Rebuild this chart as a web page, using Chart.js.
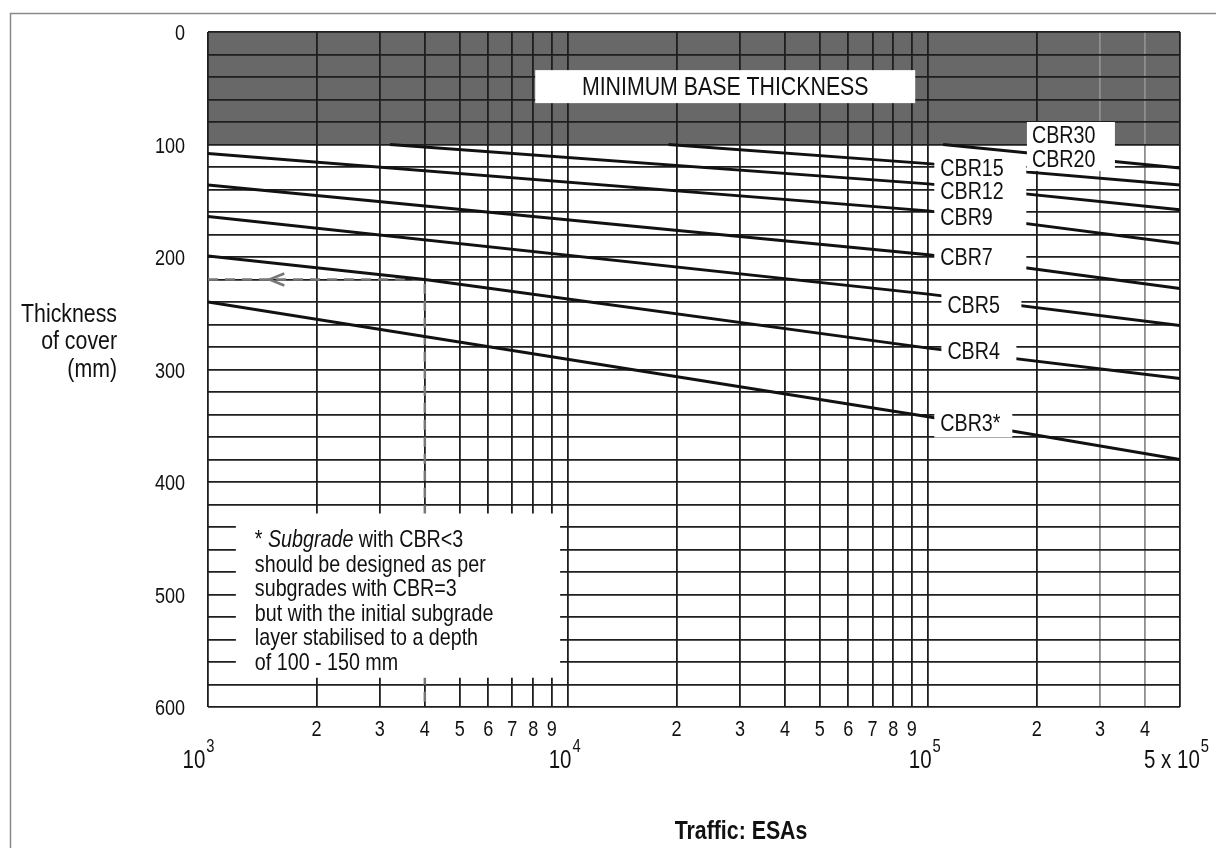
<!DOCTYPE html>
<html>
<head>
<meta charset="utf-8">
<script src="https://cdn.jsdelivr.net/npm/chart.js@4.4.1/dist/chart.umd.min.js"></script>
<style>
html, body { margin: 0; padding: 0; background: #fff; }
#wrap { width: 1216px; height: 848px; position: relative; }
</style>
</head>
<body>
<div id="wrap"><canvas id="coverChart"></canvas></div>
<script>
// thickness of cover (mm) against traffic (ESAs)
const cbr20Esa = [110000, 500000];
const cbr20Mm = [100, 121];
const cbr15Esa = [19000, 100000, 500000];
const cbr15Mm = [100, 117, 136];
const cbr12Esa = [3200, 100000, 500000];
const cbr12Mm = [100, 135, 158];
const cbr9Esa = [1000, 100000, 500000];
const cbr9Mm = [108, 159, 188];
const cbr7Esa = [1000, 100000, 500000];
const cbr7Mm = [136, 198, 228];
const cbr5Esa = [1000, 100000, 500000];
const cbr5Mm = [164, 233, 261];
const cbr4Esa = [1000, 4000, 100000, 500000];
const cbr4Mm = [199, 220, 281, 308];
const cbr3Esa = [1000, 100000, 500000];
const cbr3Mm = [240, 342, 380];

// worked example: 4000 ESAs on CBR4 -> 220 mm
const exampleEsa = [1000, 4000, 4000];
const exampleMm = [220, 220, 600];

const minBase = 100;

const xGridValues = [1000, 2000, 3000, 4000, 5000, 6000, 7000, 8000, 9000,
                     10000, 20000, 30000, 40000, 50000, 60000, 70000, 80000, 90000,
                     100000, 200000, 300000, 400000, 500000];
const xMinorValues = [2000, 3000, 4000, 5000, 6000, 7000, 8000, 9000,
                      20000, 30000, 40000, 50000, 60000, 70000, 80000, 90000,
                      200000, 300000, 400000];
const xMinorLabels = ['2', '3', '4', '5', '6', '7', '8', '9',
                      '2', '3', '4', '5', '6', '7', '8', '9',
                      '2', '3', '4'];
const xDecadeValues = [1000, 10000, 100000, 500000];
const xDecadeBase = ['10', '10', '10', '5 x 10'];
const xDecadePower = ['3', '4', '5', '5'];
const yTickValues = [0, 100, 200, 300, 400, 500, 600];

const noteLines = ['Subgrade with CBR<3', 'should be designed as per', 'subgrades with CBR=3',
                   'but with the initial subgrade', 'layer stabilised to a depth', 'of 100 - 150 mm'];

// the original lettering is a narrow sans, so text is squeezed sideways
const FAMILY = '"Liberation Sans", Arial, sans-serif';
const SQ = 0.82;

function font(size, extra) {
   return (extra ? extra + ' ' : '') + size + 'px ' + FAMILY;
}

function textWidth(ctx, s) {
   return ctx.measureText(s).width * SQ;
}

function say(ctx, s, x, y, align) {
   const w = textWidth(ctx, s);
   const left = align === 'center' ? x - w / 2 : align === 'right' ? x - w : x;
   ctx.save();
   ctx.translate(left, y);
   ctx.scale(SQ, 1);
   ctx.textAlign = 'left';
   ctx.fillText(s, 0, 0);
   ctx.restore();
   return w;
}

function toPoints(esa, mm) {
   return esa.map((v, i) => ({ x: v, y: mm[i] }));
}

function cbrLine(label, esa, mm) {
   return {
      label: label,
      data: toPoints(esa, mm),
      showLine: true,
      borderColor: '#111',
      borderWidth: 3,
      pointRadius: 0,
      fill: false
   };
}

const decor = {
   id: 'decor',

   beforeDraw(chart) {
      const { ctx, chartArea: a, scales: { y } } = chart;
      ctx.save();
      ctx.fillStyle = '#fff';
      ctx.fillRect(0, 0, chart.width, chart.height);

      // picture frame
      ctx.strokeStyle = '#8a8a8a';
      ctx.lineWidth = 1.5;
      ctx.beginPath();
      ctx.moveTo(10.5, chart.height);
      ctx.lineTo(10.5, 13.5);
      ctx.lineTo(chart.width, 13.5);
      ctx.stroke();

      // minimum base band
      ctx.fillStyle = '#686868';
      ctx.fillRect(a.left, a.top, a.right - a.left, y.getPixelForValue(minBase) - a.top);
      ctx.restore();
   },

   afterDatasetsDraw(chart) {
      const { ctx, scales: { x, y } } = chart;
      ctx.save();

      // arrow on the worked example
      const ax = x.getPixelForValue(1480);
      const ay = y.getPixelForValue(exampleMm[0]);
      ctx.strokeStyle = '#777';
      ctx.lineWidth = 2.5;
      ctx.beginPath();
      ctx.moveTo(ax + 15, ay - 6);
      ctx.lineTo(ax, ay);
      ctx.lineTo(ax + 15, ay + 6);
      ctx.stroke();

      // note box
      const nl = x.getPixelForValue(1195), nr = x.getPixelForValue(9500);
      const nt = y.getPixelForValue(428), nb = y.getPixelForValue(574);
      ctx.fillStyle = '#fff';
      ctx.fillRect(nl, nt, nr - nl, nb - nt);

      ctx.fillStyle = '#111';
      ctx.textBaseline = 'middle';
      noteLines.forEach((line, i) => {
         const ty = nt + 27 + i * 24.5;
         ctx.font = font(24);
         if (i === 0) {
            let cx = nl + 19;
            cx += say(ctx, '* ', cx, ty);
            ctx.font = font(24, 'italic');
            cx += say(ctx, 'Subgrade', cx, ty);
            ctx.font = font(24);
            say(ctx, ' with CBR<3', cx, ty);
         } else {
            say(ctx, line, nl + 19, ty);
         }
      });

      // minimum base label
      const mx = x.getPixelForValue(27300), my = y.getPixelForValue(49);
      ctx.fillStyle = '#fff';
      ctx.fillRect(mx - 190, my - 17, 380, 33);
      ctx.fillStyle = '#111';
      ctx.font = font(26);
      say(ctx, 'MINIMUM BASE THICKNESS', mx, my + 1, 'center');

      // CBR30 / CBR20 box
      const bx = x.getPixelForValue(194000);
      ctx.fillStyle = '#fff';
      ctx.fillRect(bx - 5, y.getPixelForValue(80), 88, y.getPixelForValue(123.5) - y.getPixelForValue(80));
      ctx.fillStyle = '#111';
      ctx.font = font(24);
      say(ctx, 'CBR30', bx, y.getPixelForValue(93));
      say(ctx, 'CBR20', bx, y.getPixelForValue(114));

      // labels where the lines break
      const spots = [
         { text: 'CBR15', esa: 108000, mm: 121, w: 92 },
         { text: 'CBR12', esa: 108000, mm: 142, w: 92 },
         { text: 'CBR9', esa: 108000, mm: 164.5, w: 92 },
         { text: 'CBR7', esa: 108000, mm: 200, w: 92 },
         { text: 'CBR5', esa: 113000, mm: 243, w: 80 },
         { text: 'CBR4', esa: 113000, mm: 284, w: 75 },
         { text: 'CBR3*', esa: 108000, mm: 348, w: 78 }
      ];
      spots.forEach(s => {
         const px = x.getPixelForValue(s.esa), py = y.getPixelForValue(s.mm);
         ctx.fillStyle = '#fff';
         ctx.fillRect(px - 6, py - 13, s.w, 27);
      });
      ctx.fillStyle = '#111';
      spots.forEach(s => {
         say(ctx, s.text, x.getPixelForValue(s.esa), y.getPixelForValue(s.mm) + 1);
      });
      ctx.restore();
   },

   afterDraw(chart) {
      const { ctx, chartArea: a, scales: { x, y } } = chart;
      ctx.save();
      ctx.fillStyle = '#111';
      ctx.textBaseline = 'middle';

      // y tick labels
      ctx.font = font(22);
      yTickValues.forEach(v => {
         say(ctx, String(v), a.left - 23, y.getPixelForValue(v) + 2, 'right');
      });

      // y title
      ctx.font = font(26);
      say(ctx, 'Thickness', 117, 315, 'right');
      say(ctx, 'of cover', 117, 342, 'right');
      say(ctx, '(mm)', 117, 370, 'right');

      // x minor labels
      ctx.font = font(22);
      xMinorValues.forEach((v, i) => {
         say(ctx, xMinorLabels[i], x.getPixelForValue(v), a.bottom + 23, 'center');
      });

      // x decade labels with powers
      xDecadeValues.forEach((v, i) => {
         ctx.font = font(25);
         const wb = textWidth(ctx, xDecadeBase[i]);
         ctx.font = font(18);
         const wp = textWidth(ctx, xDecadePower[i]);
         const shift = i === 0 ? -10 : -4;
         const left = x.getPixelForValue(v) + shift - (wb + wp) / 2;
         ctx.font = font(25);
         say(ctx, xDecadeBase[i], left, a.bottom + 54);
         ctx.font = font(18);
         say(ctx, xDecadePower[i], left + wb + 1, a.bottom + 40);
      });

      // x title
      ctx.font = font(26, 'bold');
      say(ctx, 'Traffic: ESAs', 741, 832, 'center');
      ctx.restore();
   }
};

new Chart(document.getElementById('coverChart'), {
   type: 'scatter',

   data: {
      datasets: [
         cbrLine('CBR20', cbr20Esa, cbr20Mm),
         cbrLine('CBR15', cbr15Esa, cbr15Mm),
         cbrLine('CBR12', cbr12Esa, cbr12Mm),
         cbrLine('CBR9', cbr9Esa, cbr9Mm),
         cbrLine('CBR7', cbr7Esa, cbr7Mm),
         cbrLine('CBR5', cbr5Esa, cbr5Mm),
         cbrLine('CBR4', cbr4Esa, cbr4Mm),
         cbrLine('CBR3*', cbr3Esa, cbr3Mm),
         {
            label: 'Example',
            data: toPoints(exampleEsa, exampleMm),
            showLine: true,
            borderColor: '#777',
            borderWidth: 2.5,
            borderDash: [10, 7],
            pointRadius: 0,
            fill: false
         }
      ]
   },

   options: {
      responsive: true,
      maintainAspectRatio: false,
      animation: false,
      events: [],

      layout: {
         padding: { left: 0, right: 36, top: 32, bottom: 0 }
      },

      plugins: {
         legend: { display: false },
         tooltip: { enabled: false }
      },

      scales: {
         x: {
            type: 'logarithmic',
            min: 1000,
            max: 500000,
            afterBuildTicks(scale) {
               scale.ticks = xGridValues.map(v => ({ value: v }));
            },
            afterFit(scale) {
               scale.height = 141;
            },
            ticks: { display: false },
            border: { display: false },
            grid: {
               drawTicks: false,
               lineWidth: 1.8,
               color: c => (c.tick && (c.tick.value === 300000 || c.tick.value === 400000)) ? '#8f8f8f' : '#1e1e1e'
            }
         },

         y: {
            type: 'linear',
            reverse: true,
            min: 0,
            max: 600,
            afterFit(scale) {
               scale.width = 208;
            },
            ticks: { display: false, stepSize: 20 },
            border: { display: false },
            grid: {
               drawTicks: false,
               lineWidth: 1.8,
               color: '#1e1e1e'
            }
         }
      }
   },

   plugins: [decor]
});
</script>
</body>
</html>
